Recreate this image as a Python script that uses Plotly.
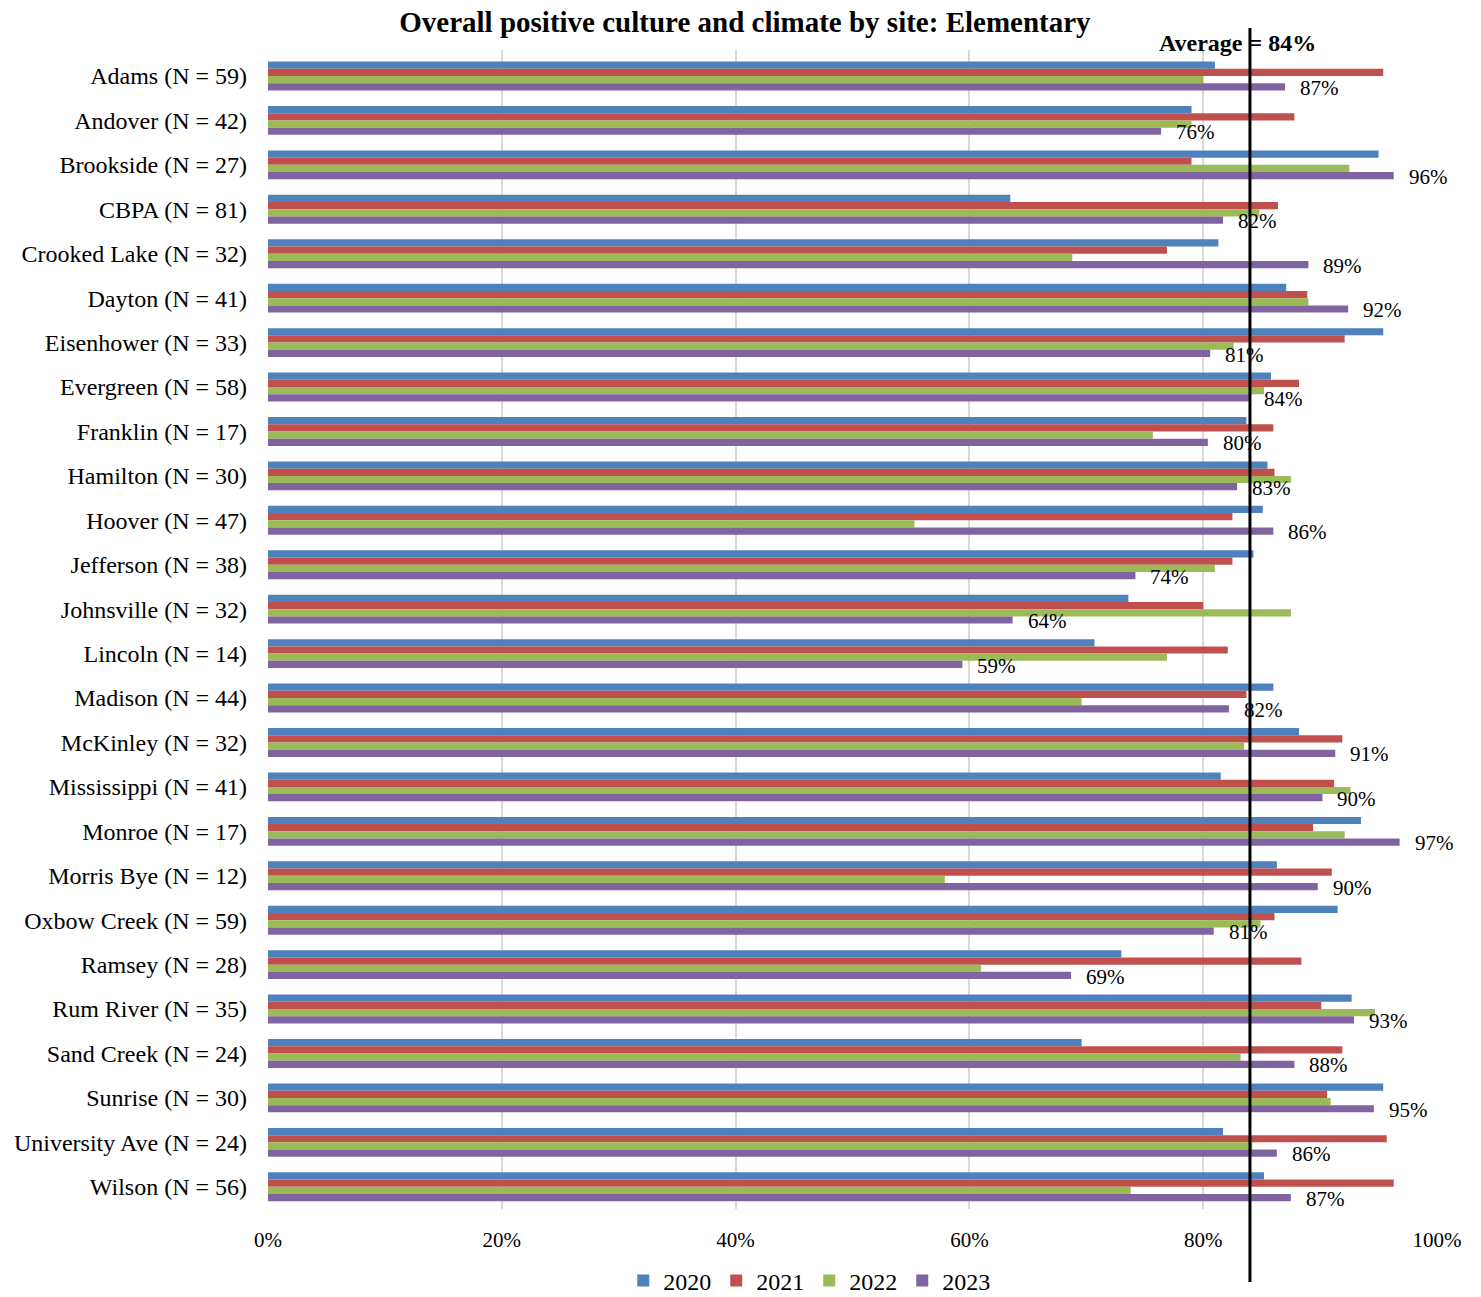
import plotly.graph_objects as go

# Sites (top to bottom) and percent positive by year
sites = ["Adams (N = 59)", "Andover (N = 42)", "Brookside (N = 27)", "CBPA (N = 81)",
         "Crooked Lake (N = 32)", "Dayton (N = 41)", "Eisenhower (N = 33)", "Evergreen (N = 58)",
         "Franklin (N = 17)", "Hamilton (N = 30)", "Hoover (N = 47)", "Jefferson (N = 38)",
         "Johnsville (N = 32)", "Lincoln (N = 14)", "Madison (N = 44)", "McKinley (N = 32)",
         "Mississippi (N = 41)", "Monroe (N = 17)", "Morris Bye (N = 12)", "Oxbow Creek (N = 59)",
         "Ramsey (N = 28)", "Rum River (N = 35)", "Sand Creek (N = 24)", "Sunrise (N = 30)",
         "University Ave (N = 24)", "Wilson (N = 56)"]

y2020 = [81, 79, 95, 63.5, 81.3, 87.1, 95.4, 85.8, 83.7, 85.5, 85.1, 84.3, 73.6,
         70.7, 86.0, 88.2, 81.5, 93.5, 86.3, 91.5, 73.0, 92.7, 69.6, 95.4, 81.7, 85.2]
y2021 = [95.4, 87.8, 79, 86.4, 76.9, 88.9, 92.1, 88.2, 86.0, 86.1, 82.5, 82.5, 80.0,
         82.1, 83.7, 91.9, 91.2, 89.4, 91.0, 86.1, 88.4, 90.1, 91.9, 90.6, 95.7, 96.3]
y2022 = [80, 79, 92.5, 84.8, 68.8, 89.0, 82.6, 85.2, 75.7, 87.5, 55.3, 81.0, 87.5,
         76.9, 69.6, 83.5, 92.6, 92.1, 57.9, 84.9, 61.0, 94.7, 83.2, 90.9, 84.2, 73.8]
y2023 = [87, 76.4, 96.3, 81.7, 89, 92.4, 80.6, 83.9, 80.4, 82.9, 86, 74.2, 63.7,
         59.4, 82.2, 91.3, 90.2, 96.8, 89.8, 80.9, 68.7, 92.9, 87.8, 94.6, 86.3, 87.5]
labels2023 = ["87%", "76%", "96%", "82%", "89%", "92%", "81%", "84%", "80%", "83%",
              "86%", "74%", "64%", "59%", "82%", "91%", "90%", "97%", "90%", "81%",
              "69%", "93%", "88%", "95%", "86%", "87%"]

years = ["2020", "2021", "2022", "2023"]
series = [y2020, y2021, y2022, y2023]
colors = ["#4F81BD", "#C0504D", "#9BBB59", "#8064A2"]

average = 84
x_ticks = [0, 20, 40, 60, 80, 100]
x_tick_text = ["0%", "20%", "40%", "60%", "80%", "100%"]

FONT = "Liberation Serif, Times New Roman, serif"

fig = go.Figure()
for name, vals, col in zip(years, series, colors):
    fig.add_trace(go.Bar(
        y=sites, x=vals, name=name, orientation="h",
        marker=dict(color=col, line=dict(width=0)),
    ))

# value labels next to the 2023 bars
for site, v, lab in zip(sites, y2023, labels2023):
    fig.add_annotation(x=v, y=site, text=lab, showarrow=False,
                       xanchor="left", yanchor="middle", xshift=13, yshift=-12,
                       font=dict(family=FONT, size=21, color="#000"))

# average reference line
fig.add_shape(type="line", xref="x", yref="paper", x0=average, x1=average,
              y0=-0.063, y1=1.019, line=dict(color="black", width=3))
fig.add_annotation(x=average, xref="x", yref="paper", y=1.006, text="<b>Average = 84%</b>",
                   showarrow=False, xanchor="center", yanchor="middle", xshift=-12,
                   font=dict(family=FONT, size=24, color="#000"))

fig.update_layout(
    width=1481, height=1297,
    margin=dict(l=268, r=44, t=50, b=88, autoexpand=False),
    paper_bgcolor="white", plot_bgcolor="white",
    barmode="group", bargap=0.35, bargroupgap=0,
    font=dict(family=FONT, size=21, color="#000"),
    title=dict(text="<b>Overall positive culture and climate by site: Elementary</b>",
               x=0.503, xref="container", xanchor="center",
               y=1 - 22 / 1297, yref="container", yanchor="middle",
               font=dict(family=FONT, size=29, color="#000")),
    legend=dict(orientation="h", x=0.463, xanchor="center", y=-0.062, yanchor="middle",
                font=dict(family=FONT, size=24), traceorder="normal",
                itemwidth=30, tracegroupgap=0),
    showlegend=True,
)
fig.update_xaxes(range=[0, 100], tickmode="array", tickvals=x_ticks, ticktext=x_tick_text,
                 showgrid=True, gridcolor="#D9D9D9", gridwidth=1.5, zeroline=False,
                 showline=False, ticks="", ticklabelstandoff=16,
                 tickfont=dict(family=FONT, size=21))
fig.update_yaxes(autorange="reversed", showgrid=False, showline=False, ticks="",
                 ticklabelstandoff=20, tickfont=dict(family=FONT, size=24))

fig.write_html("out.html")
